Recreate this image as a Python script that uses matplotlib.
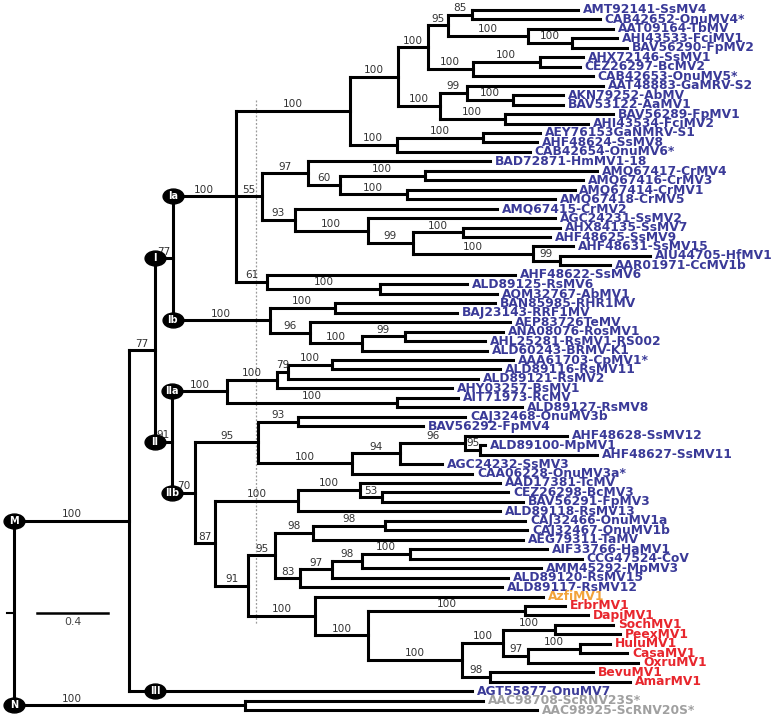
import matplotlib
matplotlib.use("Agg")
import matplotlib.pyplot as plt
from matplotlib.collections import LineCollection
from matplotlib.path import Path
from matplotlib.transforms import Affine2D

# Newick pieces, branch lengths in substitutions/site, internal labels = bootstrap
clade_1 = ("(((((AMT92141-SsMV4:0.597,CAB42652-OnuMV4*:0.721)85:0.135,"
           "(AAT09164-TbMV:0.479,(AHI43533-FciMV1:0.254,BAV56290-FpMV2:0.310)100:0.248)100:0.451)95:0.113,"
           "((AHX72146-SsMV1:0.242,CEZ26297-BcMV2:0.225)100:0.377,CAB42653-OnuMV5*:0.676)100:0.254)100:0.169,"
           "((AAT48883-GaMRV-S2:0.766,(AKN79252-AbMV:0.282,BAV53122-AaMV1:0.282)100:0.259)99:0.152,"
           "(BAV56289-FpMV1:0.608,AHI43534-FciMV2:0.468)100:0.366)100:0.237)100:0.270,"
           "((AEY76153GaNMRV-S1:0.321,AHF48624-SsMV8:0.304)100:0.485,CAB42654-OnuMV6*:0.749)100:0.265)100:0.642")
clade_2 = ("((BAD72871-HmMV1-18:1.025,((AMQ67417-CrMV4:0.969,AMQ67416-CrMV3:0.890)100:0.479,"
           "(AMQ67414-CrMV1:0.946,AMQ67418-CrMV5:0.834)100:0.377)60:0.180)97:0.259,"
           "(AMQ67415-CrMV2:1.138,(AGC24231-SsMV2:1.054,((AHX84135-SsMV7:0.546,AHF48625-SsMV9:0.490)100:0.282,"
           "(AHF48631-SsMV15:0.225,(AIU44705-HfMV1:0.507,AAR01971-CcMV1b:0.282)99:0.152)100:0.676)99:0.254)100:0.411)93:0.186)55:0.146")
clade_3 = "(AHF48622-SsMV6:1.397,(ALD89125-RsMV6:0.490,AQM32767-AbMV1:0.659)100:0.637)61:0.175"
clade_Ib = ("((BAN85985-RHR1MV:0.901,BAJ23143-RRF1MV:0.687)100:0.366,(AEP83726TeMV:1.127,"
            "((ANA08076-RosMV1:0.552,AHL25281-RsMV1-RS002:0.451)99:0.242,ALD60243-BRMV-K1:0.704)100:0.293)96:0.225)100:0.546")
clade_IIa = ("((((AAA61703-CpMV1*:1.020,ALD89116-RsMV11:0.946)100:0.248,ALD89121-RsMV2:1.070)79:0.062,"
             "AHY03257-BsMV1:0.986)100:0.282,(AIT71973-RcMV:0.344,ALD89127-RsMV8:0.704)100:0.958)100:0.310")
clade_IIb1 = ("((CAJ32468-OnuMV3b:0.941,BAV56292-FpMV4:0.704)93:0.225,(((AHF48628-SsMV12:0.575,"
              "(ALD89100-MpMV1:0.028,AHF48627-SsMV11:0.659)95:0.085)96:0.366,AGC24232-SsMV3:0.237)94:0.270,"
              "CAA06228-OnuMV3a*:0.676)100:0.530)95:0.355")
clade_IIb2 = ("((AAD17381-TcMV:0.789,(CEZ26298-BcMV3:0.710,BAV56291-FpMV3:0.794)53:0.124)100:0.349,"
              "ALD89118-RsMV13:1.138)100:0.468")
clade_IIb3 = ("(((CAJ32466-OnuMV1a:0.789,CAJ32467-OnuMV1b:0.800)98:0.406,AEG79311-TaMV:1.183)98:0.214,"
              "((((AIF33766-HaMV1:0.772,CCG47524-CoV:0.969)100:0.270,AMM45292-MpMV3:1.008)98:0.169,"
              "ALD89120-RsMV15:0.992)97:0.180,ALD89117-RsMV12:1.138)83:0.141)95:0.152")
clade_red = ("(AzfiMV1:1.285,((ErbrMV1:0.225,DapiMV1:0.355)100:0.885,(((SochMV1:0.327,PeexMV1:0.366)100:0.293,"
             "((HuluMV1:0.169,CasaMV1:0.265)100:0.293,OxruMV1:0.620)97:0.141)100:0.231,"
             "(BevuMV1:0.580,AmarMV1:0.789)98:0.158)100:0.530)100:0.299)100:0.377")
clade_N = "(AAC98708-ScRNV23S*:1.341,AAC98925-ScRNV20S*:1.645)100:1.301"

clade_Ia = "(" + clade_1 + "," + clade_2 + "," + clade_3 + ")100:0.355"
clade_I = "(" + clade_Ia + "," + clade_Ib + ")77:0.101"
clade_IIb = ("(" + clade_IIb1 + ",(" + clade_IIb2 + ",(" + clade_IIb3 + "," + clade_red + ")91:0.186)87:0.113)70:0.130")
clade_II = "(" + clade_IIa + "," + clade_IIb + ")91:0.096"
clade_M = "((" + clade_I + "," + clade_II + ")77:0.146,AGT55877-OnuMV7:1.932)100:0.648"
tree_str = "(" + clade_M + "," + clade_N + ");"

red_leaves = ["ErbrMV1", "DapiMV1", "SochMV1", "PeexMV1", "HuluMV1", "CasaMV1", "OxruMV1", "BevuMV1", "AmarMV1"]
orange_leaves = ["AzfiMV1"]
grey_leaves = ["AAC98708-ScRNV23S*", "AAC98925-ScRNV20S*"]

clade_marks = {
    "M": ("AMT92141-SsMV4", "AGT55877-OnuMV7"),
    "N": ("AAC98708-ScRNV23S*", "AAC98925-ScRNV20S*"),
    "I": ("AMT92141-SsMV4", "ALD60243-BRMV-K1"),
    "Ia": ("AMT92141-SsMV4", "AQM32767-AbMV1"),
    "Ib": ("BAN85985-RHR1MV", "ALD60243-BRMV-K1"),
    "II": ("AAA61703-CpMV1*", "AmarMV1"),
    "IIa": ("AAA61703-CpMV1*", "ALD89127-RsMV8"),
    "IIb": ("CAJ32468-OnuMV3b", "AmarMV1"),
    "III": ("AGT55877-OnuMV7", "AGT55877-OnuMV7"),
}
scale_len = 0.4
dashed_x = 1.363


def parse_newick(s):
    pos = 0

    def node():
        nonlocal pos
        n = {"children": [], "name": "", "length": 0.0}
        if s[pos] == "(":
            pos += 1
            while True:
                n["children"].append(node())
                if s[pos] == ",":
                    pos += 1
                    continue
                pos += 1
                break
        start = pos
        while s[pos] not in ":,);":
            pos += 1
        n["name"] = s[start:pos]
        if s[pos] == ":":
            pos += 1
            start = pos
            while s[pos] not in ",);":
                pos += 1
            n["length"] = float(s[start:pos])
        return n

    return node()


tree = parse_newick(tree_str)
leaves = []


def layout(n, x0, parent):
    n["x"] = x0 + n["length"]
    n["parent"] = parent
    if n["children"]:
        for c in n["children"]:
            layout(c, n["x"], n)
        n["y"] = (n["children"][0]["y"] + n["children"][-1]["y"]) / 2
        n["leafset"] = set().union(*[c["leafset"] for c in n["children"]])
    else:
        n["y"] = len(leaves)
        n["leafset"] = {n["name"]}
        leaves.append(n)


layout(tree, 0.0, None)

nodes = []
def collect(n):
    nodes.append(n)
    for c in n["children"]:
        collect(c)
collect(tree)


def mrca(a, b):
    best = None
    for n in nodes:
        if a in n["leafset"] and b in n["leafset"]:
            if best is None or len(n["leafset"]) < len(best["leafset"]):
                best = n
    return best


fig = plt.figure(figsize=(7.76, 7.16), dpi=100)
ax = fig.add_axes([0, 0, 1, 1])
ax.set_xlim(-14 / 177.5, 762 / 177.5)
ax.set_ylim(74.63, -1.057)
ax.axis("off")

segs = []
for n in nodes:
    if n["children"]:
        segs.append([(n["x"], n["children"][0]["y"]), (n["x"], n["children"][-1]["y"])])
    if n["parent"] is not None:
        segs.append([(n["parent"]["x"], n["y"]), (n["x"], n["y"])])
ax.add_collection(LineCollection(segs, colors="black", linewidths=2.2, capstyle="projecting", zorder=2))

# dashed reference line
ax.plot([dashed_x, dashed_x], [9.5, 65.0], ls=(0, (1.5, 1.5)), color="#9a9a9a", lw=0.9, zorder=1)

# root tick and scale bar
ry = tree["y"]
ax.plot([-0.04, 0], [ry, ry], color="black", lw=1.5)
ax.plot([0.13, 0.13 + scale_len], [ry, ry], color="black", lw=1.8)
ax.annotate(str(scale_len), (0.13 + scale_len / 2, ry), xytext=(0, -3), textcoords="offset points",
            ha="center", va="top", fontsize=7.8, color="#444444")

# bootstrap values
label_frac = {"N": 0.25}
name_of = {id(mrca(*v)): k for k, v in clade_marks.items()}
for n in nodes:
    if n["children"] and n["parent"] is not None and n["name"]:
        f = label_frac.get(name_of.get(id(n)), 0.5)
        px = n["parent"]["x"]
        ax.annotate(n["name"], (px + f * (n["x"] - px), n["y"]), xytext=(0, 1.2),
                    textcoords="offset points", ha="center", va="bottom",
                    fontsize=7.6, color="#333333", zorder=3)

# leaf labels
for lf in leaves:
    col = "#3a3a98"
    if lf["name"] in red_leaves:
        col = "#e8262d"
    elif lf["name"] in orange_leaves:
        col = "#f2a33a"
    elif lf["name"] in grey_leaves:
        col = "#a0a0a0"
    ax.annotate(lf["name"], (lf["x"], lf["y"]), xytext=(3.5, 0), textcoords="offset points",
                ha="left", va="center", fontsize=8.8, fontweight="bold", color=col, zorder=3)

# clade markers
ell = Path.unit_circle().transformed(Affine2D().scale(1.4, 1.0))
mark_shift = {"III": 0.146}
for k, (a, b) in clade_marks.items():
    n = mrca(a, b)
    mx = n["parent"]["x"] + mark_shift.get(k, 0.0)
    ax.plot(mx, n["y"], marker=ell, markersize=15, color="black", zorder=4)
    ax.text(mx, n["y"], k, ha="center", va="center", fontsize=7, fontweight="bold",
            color="white", zorder=5)

fig.savefig("out.png", dpi=100)
